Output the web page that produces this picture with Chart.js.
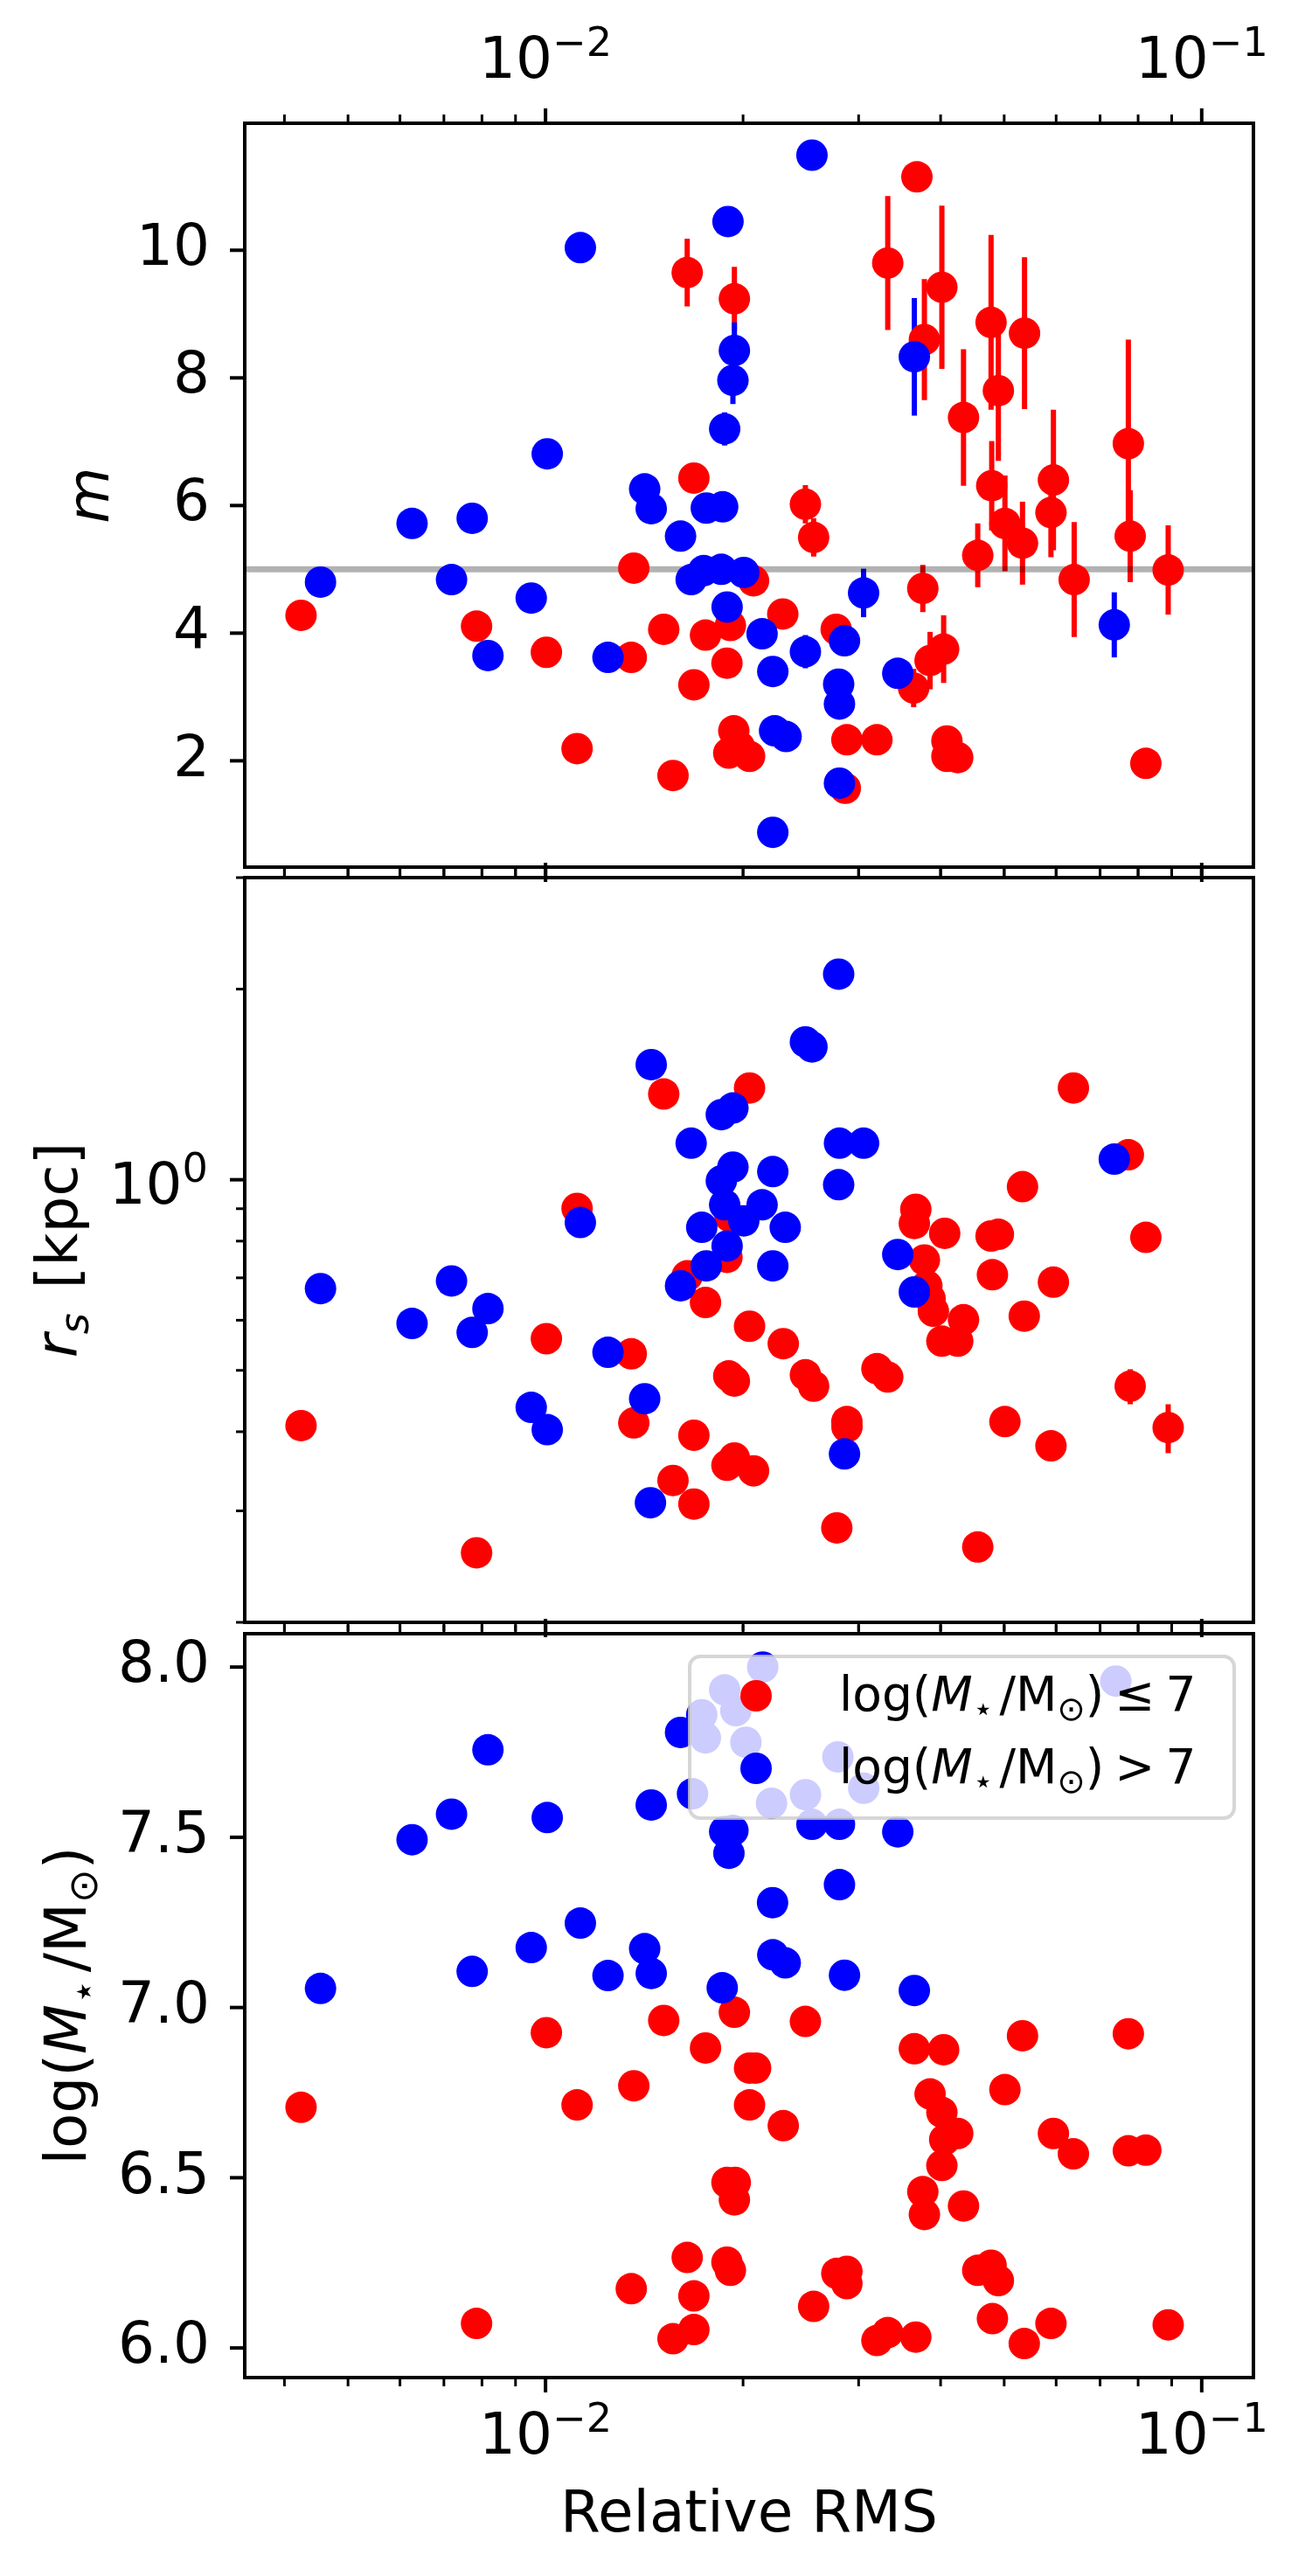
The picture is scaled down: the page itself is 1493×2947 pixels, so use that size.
<!DOCTYPE html>
<html>
<head>
<meta charset="utf-8">
<script src="https://cdn.jsdelivr.net/npm/chart.js@4.4.0/dist/chart.umd.min.js"></script>
<style>
    html, body { margin: 0; padding: 0; background: #fff; }
    #wrap { position: relative; width: 1493px; height: 2947px; }
    #wrap canvas { position: absolute; left: 0; top: 0; width: 1493px; height: 2947px; }
</style>
</head>
<body>
<div id="wrap">
    <canvas id="cTop" width="1493" height="2947"></canvas>
    <canvas id="cMid" width="1493" height="2947"></canvas>
    <canvas id="cBot" width="1493" height="2947"></canvas>
</div>
<script>
// ---- shared x axis: relative RMS (log) ----
const xLimits = [0.00348, 0.1199];
const xMajor = [0.01, 0.1];
const xMinor = [0.004, 0.005, 0.006, 0.007, 0.008, 0.009, 0.02, 0.03, 0.04, 0.05, 0.06, 0.07, 0.08, 0.09];
const xTickText = [['10', '\u22122'], ['10', '\u22121']];
const xTitle = 'Relative RMS';

// ---- panel 1: m ----
const mLimits = [0.334, 11.99];
const mTicks = [2, 4, 6, 8, 10];
const mReference = 5;
const mLowX = [0.00424, 0.00785, 0.01003, 0.01117, 0.01351, 0.01363, 0.01514, 0.01564, 0.01644, 0.01683,
    0.01683, 0.01753, 0.0189, 0.01913, 0.01902, 0.0194, 0.01936, 0.01975, 0.02046, 0.02075,
    0.02299, 0.02489, 0.02562, 0.02773, 0.02863, 0.02879, 0.03199, 0.03323, 0.03639, 0.03681,
    0.03758, 0.03779, 0.03855, 0.04018, 0.04043, 0.0409, 0.0409, 0.04248, 0.04335, 0.04557,
    0.04775, 0.04786, 0.04899, 0.05013, 0.05332, 0.0537, 0.05943, 0.05892, 0.06392, 0.0773,
    0.0778, 0.0822, 0.0889];
const mLowY = [4.28, 4.11, 3.70, 2.19, 3.62, 5.02, 4.06, 1.77, 9.65, 6.43,
    3.19, 3.97, 3.53, 4.12, 2.12, 9.24, 2.47, 2.22, 2.07, 4.82,
    4.30, 6.02, 5.50, 4.06, 1.57, 2.33, 2.33, 9.80, 3.14, 11.15,
    4.70, 8.60, 3.57, 9.42, 3.75, 2.31, 2.07, 2.05, 7.38, 5.22,
    8.87, 6.31, 7.80, 5.72, 5.41, 8.70, 6.40, 5.89, 4.84, 6.97,
    5.52, 1.96, 4.99];
const mLowErr = [0, 0, 0, 0, 0, 0, 0, 0, 0.53, 0.22,
    0, 0, 0, 0.15, 0, 0.5, 0, 0, 0, 0.15,
    0, 0.3, 0.3, 0, 0, 0, 0, 1.05, 0.3, 0,
    0.37, 0.95, 0.45, 1.28, 0.53, 0, 0, 0, 1.07, 0.5,
    1.37, 0.7, 1.1, 0.75, 0.65, 1.19, 1.1, 0.7, 0.9, 1.63,
    0.72, 0, 0.7];
const mHighX = [0.00454, 0.00626, 0.00773, 0.00719, 0.00817, 0.00951, 0.01006, 0.0113, 0.01245, 0.01416,
    0.01449, 0.01606, 0.01667, 0.01742, 0.01758, 0.01862, 0.01853, 0.01875, 0.01891, 0.01897,
    0.0193, 0.0194, 0.02005, 0.02138, 0.0222, 0.0222, 0.02234, 0.02326, 0.02489, 0.02547,
    0.02797, 0.02805, 0.02805, 0.02855, 0.03053, 0.03442, 0.03648, 0.07358];
const mHighY = [4.80, 5.72, 5.80, 4.84, 3.65, 4.55, 6.81, 10.04, 3.62, 6.26,
    5.95, 5.52, 4.84, 4.98, 5.96, 5.98, 5.00, 7.20, 4.41, 10.45,
    7.96, 8.43, 4.95, 3.99, 3.40, 0.88, 2.47, 2.38, 3.71, 11.49,
    3.20, 2.89, 1.65, 3.88, 4.63, 3.37, 8.33, 4.13];
const mHighErr = [0, 0, 0, 0, 0, 0, 0, 0, 0, 0,
    0, 0, 0, 0, 0, 0, 0, 0.26, 0, 0,
    0.37, 0.44, 0, 0, 0, 0, 0, 0, 0.26, 0,
    0, 0, 0, 0, 0.38, 0, 0.92, 0.51];

// ---- panel 2: r_s [kpc] (log) ----
const rsLimits = [0.2, 3.0];
const rsMajor = [1];
const rsMinor = [0.2, 0.3, 0.4, 0.5, 0.6, 0.7, 0.8, 0.9, 2, 3];
const rsTickText = [['10', '0']];
const rsLowX = [0.00424, 0.00785, 0.01003, 0.01117, 0.01351, 0.01363, 0.01514, 0.01564, 0.01644, 0.01683,
    0.01683, 0.01753, 0.0189, 0.0191, 0.01902, 0.0194, 0.0189, 0.0194, 0.02046, 0.02046,
    0.02075, 0.02303, 0.02489, 0.02562, 0.02779, 0.02879, 0.0288, 0.03199, 0.03323, 0.03648,
    0.03667, 0.03779, 0.03812, 0.03855, 0.0390, 0.04018, 0.04058, 0.04248, 0.04335, 0.04557,
    0.04775, 0.04899, 0.04798, 0.05013, 0.05332, 0.05365, 0.05892, 0.05943, 0.06375, 0.0773,
    0.0778, 0.0822, 0.0889];
const rsLowY = [0.409, 0.2575, 0.561, 0.901, 0.531, 0.413, 1.366, 0.335, 0.705, 0.395,
    0.3075, 0.64, 0.754, 0.875, 0.49, 0.481, 0.354, 0.3636, 1.396, 0.587,
    0.347, 0.551, 0.492, 0.472, 0.282, 0.415, 0.407, 0.503, 0.488, 0.853,
    0.898, 0.747, 0.68, 0.649, 0.62, 0.556, 0.823, 0.556, 0.601, 0.263,
    0.815, 0.82, 0.708, 0.415, 0.975, 0.609, 0.38, 0.689, 1.396, 1.095,
    0.472, 0.811, 0.406];
const rsLowErr = [0, 0, 0, 0, 0, 0, 0, 0, 0, 0,
    0, 0, 0, 0, 0, 0, 0, 0, 0, 0,
    0, 0, 0, 0, 0, 0, 0, 0, 0, 0,
    0, 0, 0, 0, 0, 0, 0, 0, 0, 0,
    0, 0, 0, 0, 0, 0, 0, 0, 0, 0,
    0.03, 0, 0.036];
const rsHighX = [0.00454, 0.00626, 0.00719, 0.00773, 0.00817, 0.00951, 0.01006, 0.0113, 0.01245, 0.01416,
    0.01449, 0.01445, 0.01606, 0.01667, 0.0173, 0.01758, 0.01853, 0.0193, 0.01853, 0.01875,
    0.01891, 0.0193, 0.02005, 0.02138, 0.0222, 0.0222, 0.02319, 0.02489, 0.02547, 0.02797,
    0.02797, 0.02805, 0.02855, 0.03053, 0.03442, 0.03648, 0.07358];
const rsHighY = [0.673, 0.593, 0.692, 0.574, 0.626, 0.437, 0.403, 0.856, 0.534, 0.451,
    1.52, 0.309, 0.68, 1.142, 0.841, 0.731, 1.267, 1.298, 0.996, 0.913,
    0.786, 1.047, 0.861, 0.913, 1.03, 0.731, 0.841, 1.651, 1.621, 2.112,
    0.982, 1.142, 0.369, 1.142, 0.762, 0.665, 1.078];

// ---- panel 3: log(M*/Msun) ----
const msLimits = [5.913, 8.098];
const msTicks = [6.0, 6.5, 7.0, 7.5, 8.0];
const msLowX = [0.00424, 0.00785, 0.01003, 0.01117, 0.01351, 0.01363, 0.01514, 0.01564, 0.01644, 0.01683,
    0.01683, 0.01753, 0.0189, 0.01913, 0.0189, 0.01946, 0.0194, 0.0194, 0.02046, 0.02046,
    0.0209, 0.02303, 0.02489, 0.02562, 0.02779, 0.02879, 0.02879, 0.03199, 0.03323, 0.03648,
    0.03667, 0.03758, 0.03779, 0.03855, 0.04018, 0.04043, 0.04058, 0.04018, 0.04248, 0.04335,
    0.04557, 0.04775, 0.04899, 0.04798, 0.05013, 0.05332, 0.05365, 0.05892, 0.05943, 0.06375,
    0.0773, 0.0773, 0.0822, 0.0889];
const msLowY = [6.707, 6.072, 6.926, 6.714, 6.174, 6.770, 6.962, 6.027, 6.266, 6.153,
    6.054, 6.881, 6.252, 6.228, 6.486, 6.486, 6.435, 6.986, 6.714, 6.822,
    6.822, 6.653, 6.959, 6.122, 6.219, 6.225, 6.189, 6.022, 6.045, 6.879,
    6.032, 6.459, 6.392, 6.746, 6.692, 6.876, 6.612, 6.536, 6.630, 6.417,
    6.228, 6.243, 6.198, 6.086, 6.759, 6.917, 6.013, 6.072, 6.63, 6.570,
    6.923, 6.579, 6.581, 6.068];
const msHighX = [0.00454, 0.00626, 0.00719, 0.00773, 0.00817, 0.00951, 0.01006, 0.0113, 0.01245, 0.01416,
    0.01449, 0.01449, 0.01606, 0.01675, 0.0173, 0.01752, 0.01875, 0.0195, 0.0202, 0.01859,
    0.01875, 0.0193, 0.01903, 0.02143, 0.0221, 0.02218, 0.0222, 0.02319, 0.0249, 0.02547,
    0.0279, 0.02805, 0.02805, 0.02855, 0.03054, 0.03442, 0.03648, 0.07398];
const msHighY = [7.056, 7.493, 7.568, 7.106, 7.757, 7.176, 7.558, 7.248, 7.094, 7.173,
    7.10, 7.595, 7.808, 7.628, 7.860, 7.792, 7.933, 7.872, 7.779, 7.058,
    7.517, 7.52, 7.453, 8.0, 7.60, 7.308, 7.155, 7.131, 7.625, 7.538,
    7.736, 7.538, 7.361, 7.095, 7.644, 7.516, 7.05, 7.959];

// ---- look ----
const W = 1493, H = 2947;
const FONT = "'DejaVu Sans'";
const FS = 66;        // tick labels and axis titles
const LEG_FS = 55;
const RED = '#ff0000', BLUE = '#0000ff';
const plotLeft = 280, plotRight = 1434;
const boxes = {
    cTop: { top: 141, bottom: 992 },
    cMid: { top: 1004, bottom: 1856 },
    cBot: { top: 1869, bottom: 2720 }
};

// label pieces: [text, style, scale, rise(em), gapAfter(em)]
const mathLow = [['log(', 'n'], ['M', 'i'], ['\u22C6', 'n', 0.7, -0.2, 0.12], ['/M', 'n'], ['\u2299', 'n', 0.7, -0.2], [')', 'n', 1, 0, 0.22], ['\u2264', 'n', 1, 0, 0.22], ['7', 'n']];
const mathHigh = [['log(', 'n'], ['M', 'i'], ['\u22C6', 'n', 0.7, -0.2, 0.12], ['/M', 'n'], ['\u2299', 'n', 0.7, -0.2], [')', 'n', 1, 0, 0.22], ['>', 'n', 1, 0, 0.22], ['7', 'n']];

const decor = {
    cTop: { xLabels: 'top', yMajor: mTicks, yMinor: [], refLine: mReference,
            yTitle: [['m', 'i']], yTitleX: 124 },
    cMid: { xLabels: null, yMajor: rsMajor, yMinor: rsMinor, yTickText: rsTickText,
            yTitle: [['r', 'i'], ['s', 'i', 0.7, -0.2, 0.1], [' [kpc]', 'n']], yTitleX: 88 },
    cBot: { xLabels: 'bottom', yMajor: msTicks, yMinor: [], legend: true,
            yTitle: [['log(', 'n'], ['M', 'i'], ['\u22C6', 'n', 0.7, -0.2, 0.12], ['/M', 'n'], ['\u2299', 'n', 0.7, -0.2], [')', 'n']], yTitleX: 98 }
};

function drawRuns(ctx, runs, x, y, size, align) {
    let total = 0;
    const items = runs.map(function (r) {
        const s = size * (r[2] || 1);
        const f = (r[1] === 'i' ? 'italic ' : '') + s + 'px ' + FONT;
        ctx.font = f;
        const w = ctx.measureText(r[0]).width;
        const gap = (r[4] || 0) * size;
        total += w + gap;
        return { t: r[0], f: f, w: w, rise: (r[3] || 0) * size, gap: gap };
    });
    let cx = align === 'center' ? x - total / 2 : (align === 'right' ? x - total : x);
    ctx.textAlign = 'left';
    ctx.textBaseline = 'alphabetic';
    items.forEach(function (it) {
        ctx.font = it.f;
        ctx.fillText(it.t, cx, y - it.rise);
        cx += it.w + it.gap;
    });
}

function tickMarks(ctx, scale, values, len, lw, axis, a) {
    ctx.lineWidth = lw;
    values.forEach(function (v) {
        const p = scale.getPixelForValue(v);
        ctx.beginPath();
        if (axis === 'x') {
            ctx.moveTo(p, a.top); ctx.lineTo(p, a.top - len);
            ctx.moveTo(p, a.bottom); ctx.lineTo(p, a.bottom + len);
        } else {
            ctx.moveTo(a.left, p); ctx.lineTo(a.left - len, p);
        }
        ctx.stroke();
    });
}

const panelDeco = {
    id: 'panelDeco',
    beforeDatasetsDraw: function (chart) {
        const d = decor[chart.canvas.id];
        const ctx = chart.ctx, a = chart.chartArea;
        const xs = chart.scales.x, ys = chart.scales.y;
        ctx.save();
        ctx.beginPath();
        ctx.rect(a.left, a.top, a.right - a.left, a.bottom - a.top);
        ctx.clip();
        // error bars
        ctx.lineWidth = 6;
        ctx.lineCap = 'butt';
        chart.data.datasets.slice().reverse().forEach(function (ds) {
            if (!ds.yErr) return;
            ctx.strokeStyle = ds.backgroundColor;
            ds.data.forEach(function (p, i) {
                const e = ds.yErr[i];
                if (!e) return;
                const px = xs.getPixelForValue(p.x);
                ctx.beginPath();
                ctx.moveTo(px, ys.getPixelForValue(p.y - e));
                ctx.lineTo(px, ys.getPixelForValue(p.y + e));
                ctx.stroke();
            });
        });
        // reference line
        if (d.refLine != null) {
            const py = ys.getPixelForValue(d.refLine);
            ctx.strokeStyle = 'rgba(0,0,0,0.3)';
            ctx.lineWidth = 7;
            ctx.beginPath();
            ctx.moveTo(a.left, py);
            ctx.lineTo(a.right, py);
            ctx.stroke();
        }
        ctx.restore();
    },
    afterDraw: function (chart) {
        const d = decor[chart.canvas.id];
        const ctx = chart.ctx, a = chart.chartArea;
        const xs = chart.scales.x, ys = chart.scales.y;
        ctx.save();
        ctx.strokeStyle = '#000';
        ctx.fillStyle = '#000';
        ctx.lineCap = 'butt';

        tickMarks(ctx, xs, xMajor, 17, 4, 'x', a);
        tickMarks(ctx, xs, xMinor, 10, 3, 'x', a);
        tickMarks(ctx, ys, d.yMajor, 17, 4, 'y', a);
        tickMarks(ctx, ys, d.yMinor, 10, 3, 'y', a);

        ctx.lineWidth = 4;
        ctx.lineJoin = 'miter';
        ctx.strokeRect(a.left, a.top, a.right - a.left, a.bottom - a.top);

        // x tick labels with exponents
        if (d.xLabels) {
            const base = d.xLabels === 'top' ? a.top - 52 : a.bottom + 87;
            xMajor.forEach(function (v, i) {
                drawRuns(ctx, [[xTickText[i][0], 'n'], [xTickText[i][1], 'n', 0.7, 0.38]],
                    xs.getPixelForValue(v), base, FS, 'center');
            });
        }
        if (d.xLabels === 'bottom') {
            drawRuns(ctx, [[xTitle, 'n']], (a.left + a.right) / 2, a.bottom + 176, FS, 'center');
        }
        // log y tick labels
        if (d.yTickText) {
            d.yMajor.forEach(function (v, i) {
                drawRuns(ctx, [[d.yTickText[i][0], 'n'], [d.yTickText[i][1], 'n', 0.7, 0.38]],
                    a.left - 42, ys.getPixelForValue(v) + 27, FS, 'right');
            });
        }
        // y title
        ctx.save();
        ctx.translate(d.yTitleX, (a.top + a.bottom) / 2);
        ctx.rotate(-Math.PI / 2);
        drawRuns(ctx, d.yTitle, 0, 0, FS, 'center');
        ctx.restore();

        // legend
        if (d.legend) {
            const lx = 789, ly = a.top + 26, lw = 623, lh = 185;
            ctx.beginPath();
            ctx.roundRect(lx, ly, lw, lh, 12);
            ctx.fillStyle = 'rgba(255,255,255,0.8)';
            ctx.fill();
            ctx.strokeStyle = 'rgba(204,204,204,0.8)';
            ctx.lineWidth = 4;
            ctx.stroke();
            const rows = [[RED, mathLow, 45], [BLUE, mathHigh, 128]];
            rows.forEach(function (r) {
                ctx.fillStyle = r[0];
                ctx.beginPath();
                ctx.arc(lx + 76, ly + r[2], 18, 0, Math.PI * 2);
                ctx.fill();
                ctx.fillStyle = '#000';
                drawRuns(ctx, r[1], lx + 171, ly + r[2] + 17, LEG_FS, 'left');
            });
        }
        ctx.restore();
    }
};

function pts(xs, ys) {
    return xs.map(function (x, i) { return { x: x, y: ys[i] }; });
}

function series(label, color, xs, ys, errs, order) {
    return {
        label: label,
        data: pts(xs, ys),
        yErr: errs || null,
        backgroundColor: color,
        borderColor: color,
        borderWidth: 0,
        pointRadius: 18,
        pointHoverRadius: 18,
        order: order
    };
}

function makePanel(id, yScale, datasets) {
    const b = boxes[id];
    return new Chart(document.getElementById(id), {
        type: 'scatter',
        data: { datasets: datasets },
        options: {
            responsive: false,
            animation: false,
            devicePixelRatio: 1,
            events: [],
            layout: { padding: { left: 0, right: W - plotRight, top: b.top, bottom: H - b.bottom } },
            plugins: { legend: { display: false }, tooltip: { enabled: false } },
            scales: {
                x: { type: 'logarithmic', min: xLimits[0], max: xLimits[1], display: false },
                y: yScale
            }
        },
        plugins: [panelDeco]
    });
}

const yTickFont = { family: 'DejaVu Sans', size: FS };

// Top panel: m
makePanel('cTop', {
    type: 'linear', min: mLimits[0], max: mLimits[1],
    grid: { display: false, drawTicks: false }, border: { display: false },
    ticks: { font: yTickFont, color: '#000', padding: 40, callback: function (v) { return String(v); } },
    afterBuildTicks: function (s) { s.ticks = mTicks.map(function (v) { return { value: v }; }); },
    afterFit: function (s) { s.width = plotLeft; }
}, [
    series('log(M*/Msun) > 7', BLUE, mHighX, mHighY, mHighErr, 1),
    series('log(M*/Msun) <= 7', RED, mLowX, mLowY, mLowErr, 2)
]);

// Middle panel: r_s
makePanel('cMid', {
    type: 'logarithmic', min: rsLimits[0], max: rsLimits[1],
    grid: { display: false, drawTicks: false }, border: { display: false },
    ticks: { display: false },
    afterFit: function (s) { s.width = plotLeft; }
}, [
    series('log(M*/Msun) > 7', BLUE, rsHighX, rsHighY, null, 1),
    series('log(M*/Msun) <= 7', RED, rsLowX, rsLowY, rsLowErr, 2)
]);

// Bottom panel: stellar mass
makePanel('cBot', {
    type: 'linear', min: msLimits[0], max: msLimits[1],
    grid: { display: false, drawTicks: false }, border: { display: false },
    ticks: { font: yTickFont, color: '#000', padding: 40, callback: function (v) { return v.toFixed(1); } },
    afterBuildTicks: function (s) { s.ticks = msTicks.map(function (v) { return { value: v }; }); },
    afterFit: function (s) { s.width = plotLeft; }
}, [
    series('log(M*/Msun) > 7', BLUE, msHighX, msHighY, null, 1),
    series('log(M*/Msun) <= 7', RED, msLowX, msLowY, null, 2)
]);
</script>
</body>
</html>
